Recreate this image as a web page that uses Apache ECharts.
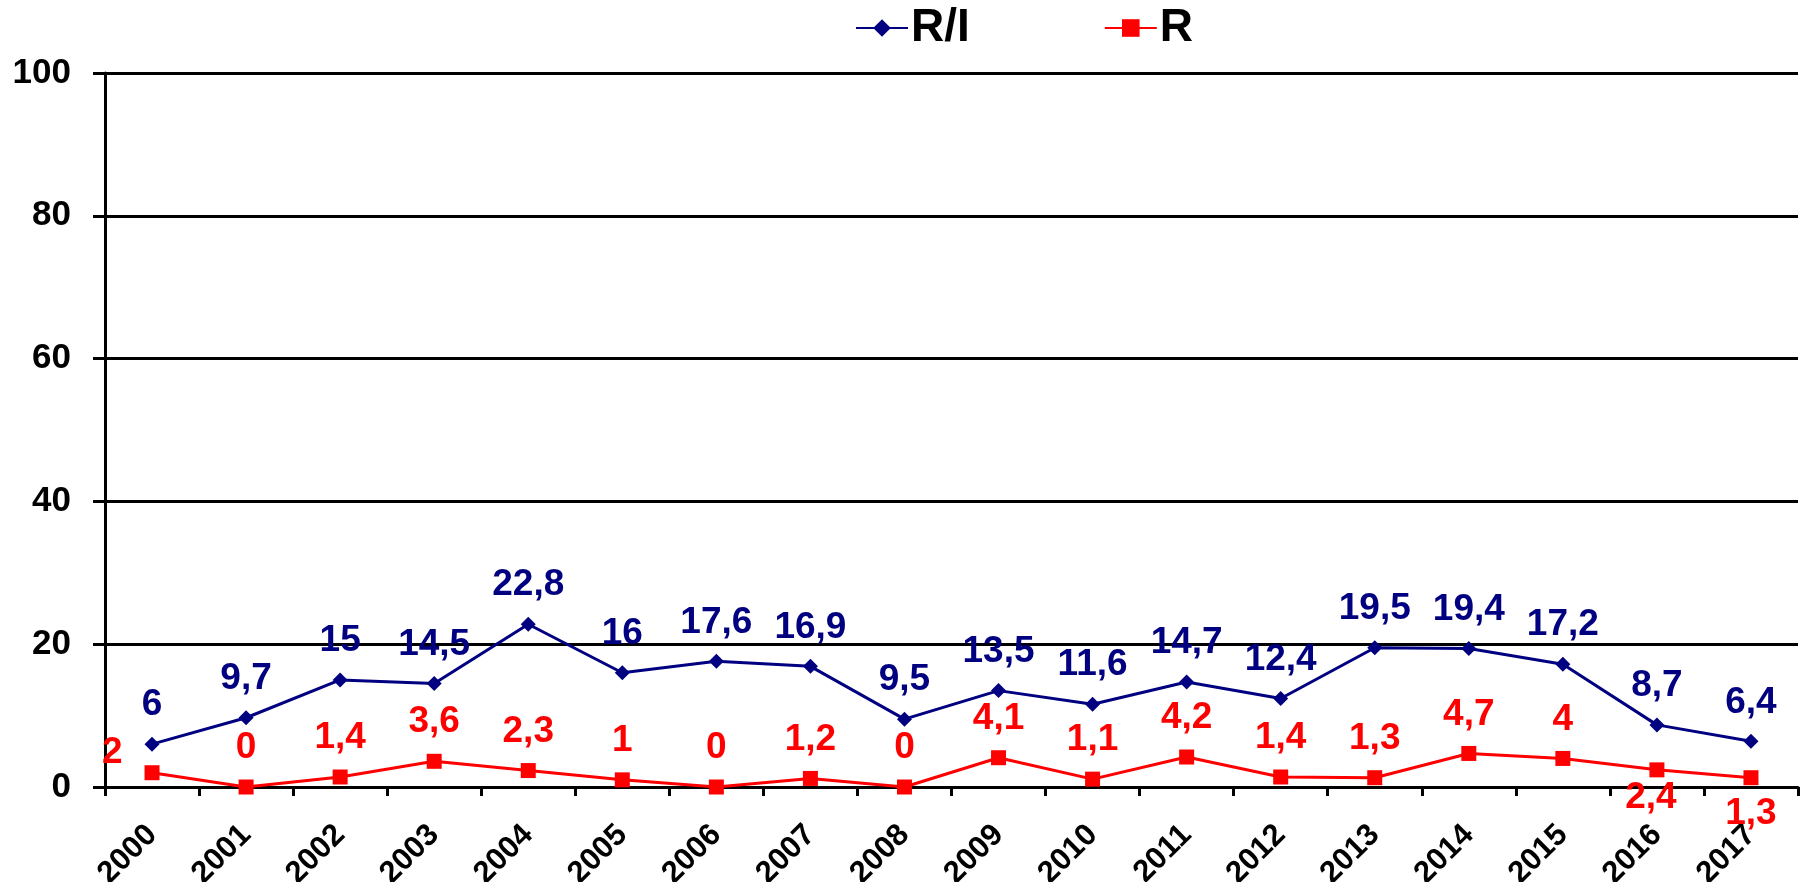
<!DOCTYPE html>
<html>
<head>
<meta charset="utf-8">
<script src="https://cdn.jsdelivr.net/npm/echarts@6/dist/echarts.min.js"></script>
<style>html,body{margin:0;padding:0;background:#fff}#c{width:1806px;height:882px}</style>
</head>
<body>
<div id="c"></div>
<script>
const years = ['2000','2001','2002','2003','2004','2005','2006','2007','2008','2009','2010','2011','2012','2013','2014','2015','2016','2017'];
const seriesRI = [6, 9.7, 15, 14.5, 22.8, 16, 17.6, 16.9, 9.5, 13.5, 11.6, 14.7, 12.4, 19.5, 19.4, 17.2, 8.7, 6.4];
const seriesR = [2, 0, 1.4, 3.6, 2.3, 1, 0, 1.2, 0, 4.1, 1.1, 4.2, 1.4, 1.3, 4.7, 4, 2.4, 1.3];
const yTicks = [0, 20, 40, 60, 80, 100];

const FONT = '"Liberation Sans", Arial, sans-serif';
const fmt = v => String(v).replace('.', ',');

// label placement overrides (style only)
const rLabelOverride = {
  0: {position: 'left', distance: 22, offset: [0, -20]},
  16: {position: 'bottom', distance: 2, offset: [-6, 0]},
  17: {position: 'bottom', distance: 10, offset: [0, 0]}
};

const chart = echarts.init(document.getElementById('c'));
chart.setOption({
  animation: false,
  backgroundColor: '#fff',
  grid: {left: 105, right: 8, top: 73, bottom: 95, containLabel: false, outerBoundsMode: 'none'},
  legend: {
    top: 0, left: 850,
    itemWidth: 52, itemHeight: 22, itemGap: 134,
    textStyle: {fontFamily: FONT, fontWeight: 'bold', fontSize: 46, color: '#000', padding: [0,0,0,-2]},
    data: ['R/I', 'R']
  },
  xAxis: {
    type: 'category',
    data: years,
    boundaryGap: true,
    axisLine: {lineStyle: {color: '#000', width: 3}},
    axisTick: {show: true, length: 9, lineStyle: {color: '#000', width: 3}},
    axisLabel: {rotate: 45, margin: 43, fontFamily: FONT, fontWeight: 'bold', fontSize: 31, color: '#000', interval: 0}
  },
  yAxis: {
    type: 'value',
    min: yTicks[0], max: yTicks[yTicks.length - 1], interval: 20,
    axisLine: {show: true, lineStyle: {color: '#000', width: 3}},
    axisTick: {show: true, length: 12, lineStyle: {color: '#000', width: 3}},
    splitLine: {show: true, lineStyle: {color: '#000', width: 3}},
    axisLabel: {margin: 34, fontFamily: FONT, fontWeight: 'bold', fontSize: 35, color: '#000'}
  },
  series: [
    {
      name: 'R/I', type: 'line',
      data: seriesRI,
      symbol: 'diamond', symbolSize: [15, 15],
      lineStyle: {color: '#000080', width: 3},
      itemStyle: {color: '#000080'},
      label: {show: true, position: 'top', distance: 13, fontFamily: FONT, fontWeight: 'bold', fontSize: 37, color: '#000080', formatter: p => fmt(p.value)}
    },
    {
      name: 'R', type: 'line',
      data: seriesR.map((v, i) => rLabelOverride[i] ? {value: v, label: rLabelOverride[i]} : v),
      symbol: 'rect', symbolSize: 15,
      lineStyle: {color: '#ff0000', width: 3},
      itemStyle: {color: '#ff0000'},
      label: {show: true, position: 'top', distance: 13, fontFamily: FONT, fontWeight: 'bold', fontSize: 37, color: '#ff0000', formatter: p => fmt(p.value)}
    }
  ]
});
</script>
</body>
</html>
